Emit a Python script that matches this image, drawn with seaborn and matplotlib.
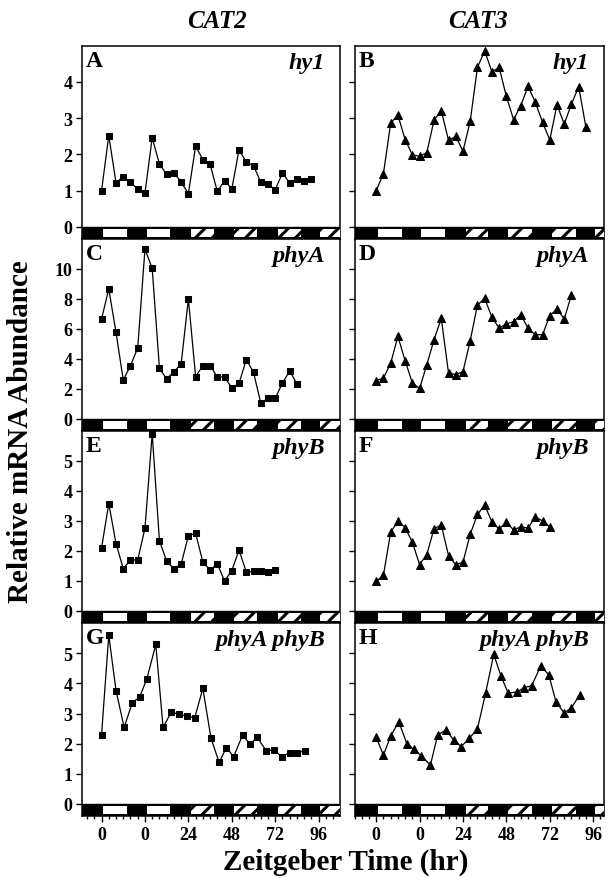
import numpy as np
import pandas as pd
import seaborn as sns
import matplotlib.pyplot as plt
from matplotlib.ticker import MultipleLocator, FixedLocator

# sampling times (hr), 4 h steps for A-F
hours = [-24, -20, -16, -12, -8, -4, 0, 4, 8, 12, 16, 20, 24, 28, 32, 36, 40,
         44, 48, 52, 56, 60, 64, 68, 72, 76, 80, 84, 88, 92]
# double mutant series
hours_ab = [-24, -20, -16, -11.5, -7, -3, 1, 6, 10, 14.5, 19, 23, 27.5, 32, 36.5,
            41, 45, 49, 54, 58, 62, 67, 71.5, 75.5, 80, 84, 88.5]

cat2_hy1 = [1.0, 2.52, 1.22, 1.39, 1.24, 1.04, 0.94, 2.46, 1.74, 1.45, 1.50, 1.24,
            0.92, 2.23, 1.86, 1.73, 0.98, 1.28, 1.05, 2.13, 1.79, 1.69, 1.24, 1.18,
            1.03, 1.49, 1.21, 1.33, 1.28, 1.32]
cat3_hy1 = [1.0, 1.47, 2.86, 3.09, 2.41, 1.99, 1.95, 2.05, 2.95, 3.21, 2.39, 2.50,
            2.09, 2.92, 4.40, 4.86, 4.28, 4.40, 3.60, 2.96, 3.35, 3.88, 3.44, 2.89,
            2.40, 3.37, 2.84, 3.39, 3.87, 2.75]
cat2_phya = [6.67, 8.67, 5.78, 2.6, 3.56, 4.73, 11.33, 10.04, 3.38, 2.67, 3.16, 3.67,
             8.0, 2.82, 3.56, 3.56, 2.8, 2.8, 2.07, 2.38, 3.96, 3.11, 1.07, 1.38,
             1.38, 2.4, 3.2, 2.33]
cat3_phya = [2.56, 2.73, 3.71, 5.51, 3.89, 2.4, 2.04, 3.62, 5.29, 6.71, 3.07, 2.96,
             3.16, 5.22, 7.6, 8.04, 6.78, 6.07, 6.33, 6.49, 6.96, 6.04, 5.62, 5.62,
             6.89, 7.33, 6.67, 8.27]
cat2_phyb = [2.10, 3.58, 2.25, 1.41, 1.70, 1.70, 2.76, 5.91, 2.34, 1.66, 1.41, 1.56,
             2.51, 2.59, 1.63, 1.37, 1.57, 1.0, 1.35, 2.03, 1.30, 1.32, 1.35, 1.30, 1.38]
cat3_phyb = [0.99, 1.19, 2.62, 3.0, 2.78, 2.29, 1.55, 1.88, 2.75, 2.86, 1.85, 1.54,
             1.63, 2.56, 3.22, 3.53, 2.97, 2.73, 2.97, 2.70, 2.81, 2.76, 3.14, 3.0, 2.81]
cat2_phyab = [2.29, 5.60, 3.76, 2.54, 3.36, 3.54, 4.14, 5.29, 2.54, 3.04, 2.98, 2.91,
              2.86, 3.83, 2.18, 1.38, 1.87, 1.57, 2.29, 1.98, 2.21, 1.77, 1.79, 1.57,
              1.70, 1.70, 1.76]
cat3_phyab = [2.21, 1.62, 2.25, 2.73, 1.99, 1.81, 1.59, 1.29, 2.29, 2.45, 2.12, 1.90,
              2.18, 2.49, 3.67, 4.96, 4.25, 3.67, 3.72, 3.86, 3.92, 4.57, 4.28, 3.37,
              3.02, 3.19, 3.61]

genes = ["CAT2", "CAT3"]
genotypes = ["hy1", "phyA", "phyB", "phyA phyB"]
letters = [["A", "B"], ["C", "D"], ["E", "F"], ["G", "H"]]
series = [[cat2_hy1, cat3_hy1], [cat2_phya, cat3_phya],
          [cat2_phyb, cat3_phyb], [cat2_phyab, cat3_phyab]]
row_max = [5, 12, 6, 6]
row_ticks = [[0, 1, 2, 3, 4], [0, 2, 4, 6, 8, 10], [0, 1, 2, 3, 4, 5], [0, 1, 2, 3, 4, 5]]

# light regime bar: white = light, hatched = subjective day, black = dark
light_on = [(-23, 13), (1, 13)]
subj_day = [(25.5, 12.5), (49, 13), (73.5, 13), (97, 13)]

xtick_pos = [-24, 0, 24, 48, 72, 96]
xtick_lab = ["0", "0", "24", "48", "72", "96"]

sns.set_style("ticks")
plt.rcParams["font.family"] = ["Liberation Serif", "DejaVu Serif"]
plt.rcParams["font.weight"] = "bold"
plt.rcParams["text.color"] = "black"
plt.rcParams["axes.labelcolor"] = "black"
plt.rcParams["xtick.color"] = "black"
plt.rcParams["ytick.color"] = "black"
plt.rcParams["hatch.linewidth"] = 2.2
plt.rcParams["hatch.color"] = "black"

W, H = 609, 879
fig = plt.figure(figsize=(W / 100, H / 100), dpi=100)

cols = [(82, 340, (-34.8, 107.8)), (354.5, 604, (-36, 102))]
rows = [(46.7, 240), (240, 432), (432, 624), (624, 817)]
bar_px = 12

for r, (top, bot) in enumerate(rows):
    for c, (x0, x1, xl) in enumerate(cols):
        ax = fig.add_axes([x0 / W, 1 - bot / H, (x1 - x0) / W, (bot - top) / H])
        ymax = row_max[r]
        ylo = -ymax * bar_px / (bot - top - bar_px)
        y = series[r][c]
        t = hours_ab if r == 3 else hours[:len(y)]
        df = pd.DataFrame({"t": t, "v": y})
        sns.lineplot(data=df, x="t", y="v", ax=ax, color="black", linewidth=0.9,
                     marker="s" if c == 0 else "^",
                     markersize=4.2 if c == 0 else 5.8,
                     markeredgecolor="black", markerfacecolor="black")
        ax.set_xlim(*xl)
        ax.set_ylim(ylo, ymax)

        # photoperiod bar
        ax.broken_barh([(xl[0], xl[1] - xl[0])], (ylo, -ylo), facecolors="black",
                       edgecolor="none", zorder=3)
        ax.broken_barh(light_on, (ylo * 0.8, -ylo * 0.6), facecolors="white",
                       edgecolor="none", zorder=4)
        ax.broken_barh(subj_day, (ylo * 0.8, -ylo * 0.6), facecolors="white",
                       edgecolor="black", linewidth=0, hatch="//", zorder=4)
        ax.axhline(0, color="black", linewidth=1, zorder=5)

        ax.yaxis.set_major_locator(FixedLocator(row_ticks[r]))
        if c == 0:
            ax.set_yticklabels([str(v) for v in row_ticks[r]], fontsize=13,
                               fontweight="bold")
        else:
            ax.set_yticklabels([])
        ax.tick_params(axis="y", direction="out", length=4, width=1, pad=3)

        if r == 3:
            ax.set_xticks(xtick_pos)
            ax.set_xticklabels(xtick_lab, fontsize=13, fontweight="bold")
            ax.xaxis.set_minor_locator(MultipleLocator(4))
            ax.tick_params(axis="x", which="major", direction="out", length=4, width=1)
            ax.tick_params(axis="x", which="minor", direction="out", length=2.5, width=1)
        else:
            ax.set_xticks([])
        ax.set_xlabel("")
        ax.set_ylabel("")
        for s in ax.spines.values():
            s.set_linewidth(1.1)
            s.set_color("black")

        hpx = bot - top
        wpx = x1 - x0
        ax.text(4 / wpx, 1 - 4 / hpx, letters[r][c], transform=ax.transAxes,
                ha="left", va="top", fontsize=17, fontweight="bold", zorder=6)
        ax.text(1 - 15 / wpx, 1 - 6 / hpx, genotypes[r], transform=ax.transAxes,
                ha="right", va="top", fontsize=17.5, fontweight="bold",
                fontstyle="italic", zorder=6)

fig.text(217 / W, 1 - 22 / H, genes[0], ha="center", va="center",
         fontsize=18, fontweight="bold", fontstyle="italic")
fig.text(478 / W, 1 - 22 / H, genes[1], ha="center", va="center",
         fontsize=18, fontweight="bold", fontstyle="italic")
fig.text(21 / W, 1 - 432 / H, "Relative mRNA Abundance", rotation=90,
         ha="center", va="center", fontsize=21, fontweight="bold")
fig.text(346 / W, 1 - 862 / H, "Zeitgeber Time (hr)", ha="center", va="center",
         fontsize=21, fontweight="bold")

fig.savefig("out.png", dpi=100, facecolor="white")
